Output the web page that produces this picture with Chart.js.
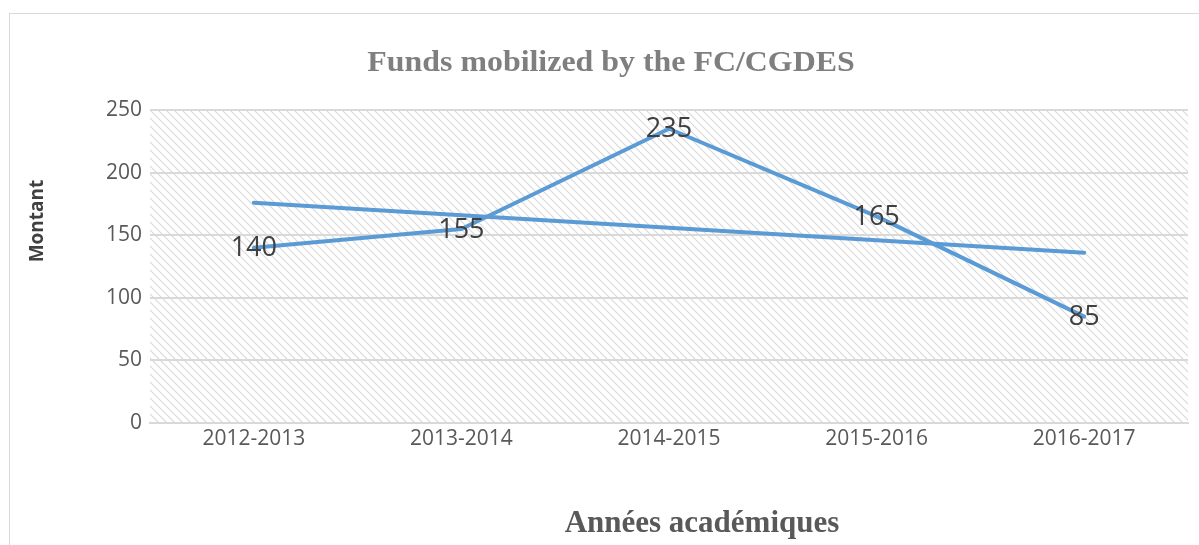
<!DOCTYPE html>
<html>
<head>
<meta charset="utf-8">
<script src="https://cdn.jsdelivr.net/npm/chart.js@4/dist/chart.umd.min.js"></script>
<style>
  html,body{margin:0;padding:0;background:#fff;}
  #wrap{width:1199px;height:545px;position:relative;}
</style>
</head>
<body>
<div id="wrap"><canvas id="c" width="1199" height="545"></canvas></div>
<script>
const categories = ['2012-2013','2013-2014','2014-2015','2015-2016','2016-2017'];
const fundValues = [140,155,235,165,85];
const trendValues = [176,166,156,146,136];
const yTicks = [0,50,100,150,200,250];
const chartTitle = 'Funds mobilized by the FC/CGDES';
const xTitle = 'Années académiques';
const yTitle = 'Montant';

const lineColor = '#5b9bd5';

function makePattern(){
  const p = document.createElement('canvas');
  p.width = 8; p.height = 8;
  const g = p.getContext('2d');
  g.strokeStyle = '#d9d9d9';
  g.lineWidth = 1.1;
  g.beginPath();
  g.moveTo(-1,-1); g.lineTo(9,9);
  g.moveTo(-5,3); g.lineTo(5,13);
  g.moveTo(3,-5); g.lineTo(13,5);
  g.stroke();
  return g.createPattern(p,'repeat');
}

const decor = {
  id:'decor',
  beforeDraw(chart){
    const ctx = chart.ctx, a = chart.chartArea;
    ctx.save();
    ctx.fillStyle = '#fff';
    ctx.fillRect(0,0,chart.width,chart.height);
    ctx.strokeStyle = '#d9d9d9';
    ctx.lineWidth = 1;
    ctx.strokeRect(9.5,13.5,1400,800);
    ctx.fillStyle = makePattern();
    ctx.fillRect(a.left,a.top,a.right-a.left,a.bottom-a.top);
    ctx.restore();
  },
  afterDraw(chart){
    const ctx = chart.ctx;
    ctx.save();
    ctx.fillStyle = '#7f7f7f';
    ctx.font = 'bold 29px "Liberation Serif", "DejaVu Serif", serif';
    ctx.textAlign = 'center';
    ctx.textBaseline = 'alphabetic';
    ctx.translate(611,71);
    ctx.scale(1.1,1);
    ctx.fillText(chartTitle,0,0);
    ctx.restore();

    ctx.save();
    ctx.fillStyle = '#595959';
    ctx.font = 'bold 31px "Liberation Serif", "DejaVu Serif", serif';
    ctx.textAlign = 'center';
    ctx.textBaseline = 'alphabetic';
    ctx.fillText(xTitle,702,532);
    ctx.restore();

    ctx.save();
    ctx.fillStyle = '#404040';
    ctx.font = 'bold 19px "Open Sans", sans-serif';
    ctx.textAlign = 'center';
    ctx.textBaseline = 'middle';
    ctx.translate(38,221);
    ctx.rotate(-Math.PI/2);
    ctx.fillText(yTitle,0,0);
    ctx.restore();
  },
  afterDatasetsDraw(chart){
    const ctx = chart.ctx;
    const meta = chart.getDatasetMeta(0);
    ctx.save();
    ctx.fillStyle = '#404040';
    ctx.font = '27px "Open Sans", sans-serif';
    ctx.textAlign = 'center';
    ctx.textBaseline = 'middle';
    meta.data.forEach((pt,i)=>{
      ctx.fillText(String(fundValues[i]), pt.x, pt.y+1);
    });
    ctx.restore();
  }
};

new Chart(document.getElementById('c'),{
  type:'line',
  data:{
    labels:categories,
    datasets:[
      {label:'Montant',data:fundValues,borderColor:lineColor,borderWidth:4,pointRadius:0,tension:0,borderCapStyle:'round',borderJoinStyle:'round',order:1},
      {label:'Tendance',data:trendValues,borderColor:lineColor,borderWidth:4,pointRadius:0,tension:0,borderCapStyle:'round',order:2}
    ]
  },
  options:{
    responsive:false,
    animation:false,
    devicePixelRatio:1,
    layout:{padding:{top:110,left:0,right:11,bottom:0}},
    plugins:{legend:{display:false},title:{display:false},tooltip:{enabled:false}},
    scales:{
      x:{
        offset:true,
        grid:{display:false,drawTicks:false},
        border:{display:true,color:'#d9d9d9',width:2},
        ticks:{color:'#595959',font:{family:'"Open Sans", sans-serif',size:21},padding:3,maxRotation:0,autoSkip:false},
        afterFit(s){ s.height = 122; }
      },
      y:{
        min:0,max:250,
        afterBuildTicks(s){ s.ticks = yTicks.map(v=>({value:v})); },
        grid:{color:'#d9d9d9',lineWidth:2,drawTicks:false},
        border:{display:false},
        ticks:{color:'#595959',font:{family:'"Open Sans", sans-serif',size:21},padding:8},
        afterFit(s){ s.width = 150; }
      }
    }
  },
  plugins:[decor]
});
</script>
</body>
</html>
